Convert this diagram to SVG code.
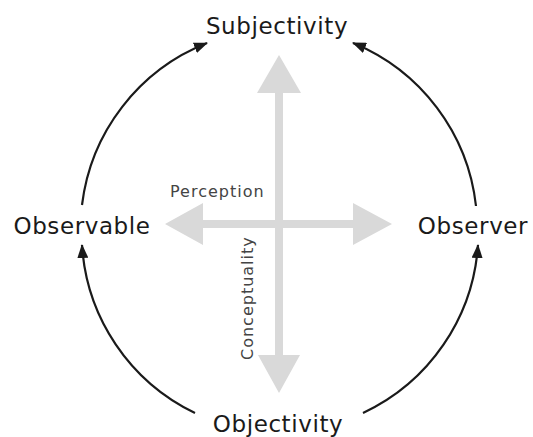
<svg xmlns="http://www.w3.org/2000/svg" width="533" height="437" viewBox="0 0 533 437">
<style>
.big{font-family:"DejaVu Sans",Verdana,sans-serif;font-size:23px;fill:#1a1a1a;letter-spacing:0.6px;text-anchor:middle}
.small{font-family:"DejaVu Sans",Verdana,sans-serif;font-size:16px;fill:#444;letter-spacing:1px}
.arc{fill:none;stroke:#1a1a1a;stroke-width:2.2;marker-end:url(#ah)}
.gray{fill:#d9d9d9}
</style>
<defs>
<marker id="ah" viewBox="0 0 14 11" refX="13" refY="5.5" markerWidth="14" markerHeight="11" markerUnits="userSpaceOnUse" orient="auto">
<path d="M0,0 L14,5.5 L0,11 Z" fill="#1a1a1a"/>
</marker>
</defs>
<g id="axes">
<path class="gray" d="M279,55 L301,93 L283,93 L283,355 L300,355 L279,393 L258,355 L275,355 L275,93 L257,93 Z"/>
<path class="gray" d="M165,224 L203,203 L203,220 L353,220 L353,203 L392,224 L353,245 L353,228 L203,228 L203,245 Z"/>
</g>
<g id="connectors">
<path class="arc" d="M82,205 A200,200 0 0 1 207,43"/>
<path class="arc" d="M476,206 A200,200 0 0 0 353,43"/>
<path class="arc" d="M195,413 A200,200 0 0 1 82,245"/>
<path class="arc" d="M363,413 A200,200 0 0 0 478,245"/>
</g>
<g id="subjectivity"><text class="big" x="277" y="34">Subjectivity</text></g>
<g id="objectivity"><text class="big" x="278" y="432">Objectivity</text></g>
<g id="observable"><text class="big" x="82" y="234">Observable</text></g>
<g id="observer"><text class="big" x="473" y="234">Observer</text></g>
<g id="perception"><text class="small" x="170" y="197">Perception</text></g>
<g id="conceptuality"><text class="small" transform="translate(253,360) rotate(-90)" x="0" y="0">Conceptuality</text></g>
</svg>
